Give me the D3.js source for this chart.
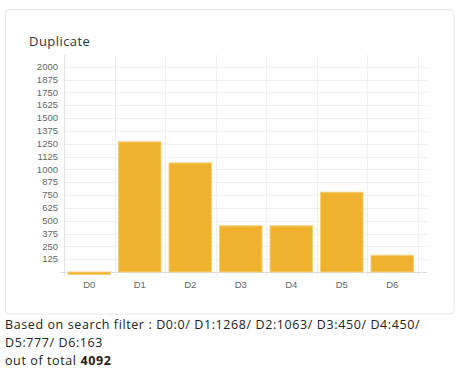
<!DOCTYPE html>
<html>
<head>
<meta charset="utf-8">
<script src="https://d3js.org/d3.v7.min.js"></script>
<style>
  body { margin: 0; background: #fff; }
</style>
</head>
<body>
<div id="chart"></div>
<script>
const categories = ["D0", "D1", "D2", "D3", "D4", "D5", "D6"];
const values = [0, 1268, 1063, 450, 450, 777, 163];
const yTicks = [125, 250, 375, 500, 625, 750, 875, 1000, 1125, 1250, 1375, 1500, 1625, 1750, 1875, 2000];
const total = 4092;

const W = 465, H = 385;
const plot = {left: 64, right: 417.5, top: 55, bottom: 272};

const svg = d3.select("#chart").append("svg")
  .attr("width", W).attr("height", H);

// card
svg.append("rect")
  .attr("x", 5.5).attr("y", 9.5).attr("width", 448.5).attr("height", 304.5)
  .attr("rx", 4).attr("fill", "#fff").attr("stroke", "#e7e8ee");

svg.append("text")
  .attr("x", 29).attr("y", 46)
  .attr("font-family", "'Open Sans', sans-serif").attr("font-size", 13)
  .attr("letter-spacing", 0.45)
  .attr("fill", "#333").text("Duplicate");

const x = d3.scaleBand().domain(categories).range([plot.left, plot.right]).paddingInner(0).paddingOuter(0);
const y = d3.scaleLinear().domain([0, 2000]).range([plot.bottom, 66.7]);

// horizontal grid
svg.append("g").selectAll("line").data(yTicks).join("line")
  .attr("x1", plot.left).attr("x2", 427)
  .attr("y1", d => Math.round(y(d)) + 0.5).attr("y2", d => Math.round(y(d)) + 0.5)
  .attr("stroke", "#f0f0f2");

// vertical grid
const vx = categories.map(c => x(c)).concat([plot.right]);
svg.append("g").selectAll("line").data(vx).join("line")
  .attr("x1", d => Math.round(d) + 0.5).attr("x2", d => Math.round(d) + 0.5)
  .attr("y1", plot.top).attr("y2", plot.bottom + 4)
  .attr("stroke", "#efeff2");

// axes lines
svg.append("line").attr("x1", 60).attr("x2", 427)
  .attr("y1", plot.bottom + 0.5).attr("y2", plot.bottom + 0.5).attr("stroke", "#dcdce0");
svg.append("line").attr("x1", plot.left + 0.5).attr("x2", plot.left + 0.5)
  .attr("y1", plot.top).attr("y2", plot.bottom + 4).attr("stroke", "#e2e2e6");

// y labels
svg.append("g").selectAll("text").data(yTicks).join("text")
  .attr("x", 58).attr("y", d => y(d) + 3.3)
  .attr("text-anchor", "end")
  .attr("font-family", "'Liberation Sans', Arial, sans-serif").attr("font-size", 9.5)
  .attr("fill", "#666").text(d => d);

// x labels
svg.append("g").selectAll("text").data(categories).join("text")
  .attr("x", d => x(d) + x.bandwidth() / 2).attr("y", 287.5)
  .attr("text-anchor", "middle")
  .attr("font-family", "'Liberation Sans', Arial, sans-serif").attr("font-size", 9.5)
  .attr("fill", "#666").text(d => d);

// bars
const bw = 42.5;
svg.append("g").selectAll("rect").data(values).join("rect")
  .attr("x", (d, i) => x(categories[i]) + (x.bandwidth() - bw) / 2)
  .attr("y", d => d === 0 ? plot.bottom : y(d))
  .attr("width", bw)
  .attr("height", d => d === 0 ? 2.5 : plot.bottom - y(d))
  .attr("fill", "#efb22e")
  .attr("stroke", "#f5cf7a").attr("stroke-width", 1);

// footer text
const parts = categories.map((c, i) => c + ":" + values[i] + "/");
const lines = [
  "Based on search filter : " + parts.slice(0, 5).join(" "),
  parts.slice(5).join(" ")
];
const foot = svg.append("g")
  .attr("font-family", "'Open Sans', sans-serif").attr("font-size", 12.5)
  .attr("letter-spacing", 0.6).attr("fill", "#222");
lines.forEach((l, i) => {
  foot.append("text").attr("x", 5).attr("y", 328.5 + i * 18).text(i === 1 ? l.replace(/\/$/, "") : l);
});
const last = foot.append("text").attr("x", 5).attr("y", 364.5);
last.append("tspan").text("out of total ");
last.append("tspan").attr("font-weight", "bold").text(total);
</script>
</body>
</html>
